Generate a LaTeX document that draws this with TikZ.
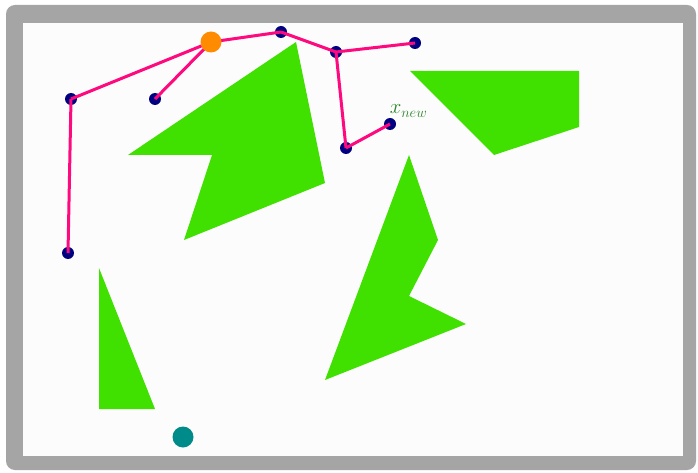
\documentclass[tikz,border=0pt]{standalone}
\usepackage{tikz}
\definecolor{obst}{HTML}{40E000}
\definecolor{frame}{HTML}{A5A5A5}
\definecolor{edgec}{HTML}{FF0A7E}
\definecolor{vert}{HTML}{000080}
\definecolor{rootc}{HTML}{FF8C00}
\definecolor{goalc}{HTML}{008B8B}
\definecolor{lblc}{HTML}{2A852A}
\definecolor{inner}{HTML}{FCFCFC}
\begin{document}
\begin{tikzpicture}[x=1pt,y=-1pt,
  obstacle/.style={fill=obst,draw=none},
  vtx/.style={circle,fill=vert,inner sep=0pt,minimum size=12pt},
  tedge/.style={draw=edgec,line width=3pt},
  rootnode/.style={circle,fill=rootc,inner sep=0pt,minimum size=21pt},
  goalnode/.style={circle,fill=goalc,inner sep=0pt,minimum size=21pt}]
\useasboundingbox (0,0) rectangle (698,473);
\fill[white] (0,0) rectangle (698,473);
\fill[frame,rounded corners=9pt] (6,5) rectangle (696,470);
\fill[inner] (23,23) rectangle (683,456);
% obstacles
\fill[obstacle] (128,155) -- (296,42) -- (325,183) -- (184,240) -- (212,155) -- cycle;
\fill[obstacle] (410,71) -- (579,71) -- (579,127) -- (494,155) -- cycle;
\fill[obstacle] (409,155) -- (438,240) -- (409,296) -- (466,324) -- (325,380) -- cycle;
\fill[obstacle] (99,268) -- (155,409) -- (99,409) -- cycle;
% vertices
\node[vtx] (a) at (281,32) {};
\node[vtx] (b) at (336,52) {};
\node[vtx] (c) at (415,43) {};
\node[vtx] (d) at (71,99) {};
\node[vtx] (e) at (155,99) {};
\node[vtx] (f) at (68,253) {};
\node[vtx] (g) at (346,148) {};
\node[vtx] (h) at (390,124) {};
\coordinate (r) at (211,42);
% edges
\draw[tedge] (r) -- (d.center);
\draw[tedge] (r) -- (e.center);
\draw[tedge] (r) -- (a.center);
\draw[tedge] (a.center) -- (b.center);
\draw[tedge] (b.center) -- (c.center);
\draw[tedge] (b.center) -- (g.center);
\draw[tedge] (g.center) -- (h.center);
\draw[tedge] (d.center) -- (f.center);
\node[rootnode] (root) at (r) {};
\node[goalnode] (goal) at (183,437) {};
\node[text=lblc,font=\fontsize{20}{22}\selectfont,inner sep=0pt] (lbl) at (408.5,111) {$x_{new}$};
\end{tikzpicture}
\end{document}
